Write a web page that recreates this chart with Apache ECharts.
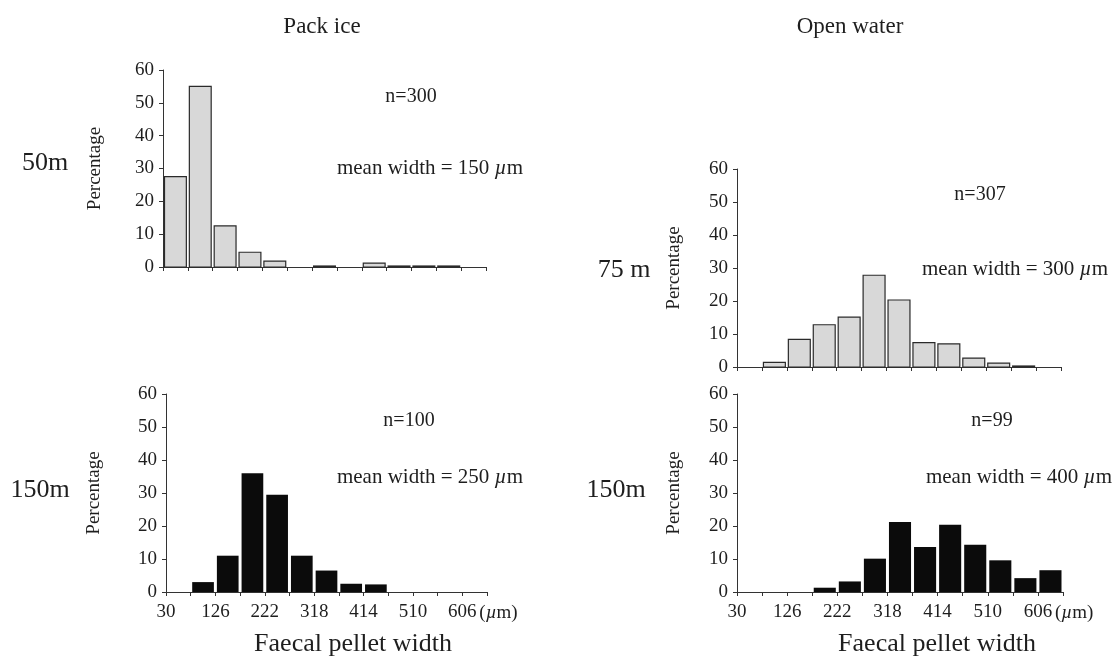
<!DOCTYPE html>
<html>
<head>
<meta charset="utf-8">
<title>Faecal pellet width</title>
<script src="https://cdn.jsdelivr.net/npm/echarts@6/dist/echarts.min.js"></script>
<style>
  html, body { margin: 0; padding: 0; background: #fff; }
  #chart { width: 1120px; height: 659px; }
</style>
</head>
<body>
<div id="chart"></div>
<script>
// Lower edge of each 48 µm width class
const binStarts = [30, 78, 126, 174, 222, 270, 318, 366, 414, 462, 510, 558, 606];
const binWidth = 48;
const tickLabels = [30, 126, 222, 318, 414, 510, 606];

// Percentage of pellets in each width class
const packIce50 = [27.5, 55, 12.5, 4.5, 1.8, 0, 0.3, 0, 1.2, 0.2, 0.3, 0.3, 0];
const packIce150 = [0, 3, 11, 36, 29.5, 11, 6.5, 2.5, 2.3, 0, 0, 0, 0];
const openWater75 = [0, 1.4, 8.4, 12.8, 15.1, 27.8, 20.3, 7.4, 7.0, 2.7, 1.2, 0.2, 0];
const openWater150 = [0, 0, 0, 1.3, 3.2, 10.1, 21.2, 13.6, 20.4, 14.3, 9.6, 4.2, 6.6];

const panelTitles = ['Pack ice', 'Open water'];
const depthLabels = ['50m', '75 m', '150m', '150m'];
const sampleSizes = ['n=300', 'n=307', 'n=100', 'n=99'];
const meanWidths = [150, 300, 250, 400];

const FONT = '"Liberation Serif", "Times New Roman", serif';
const INK = '#1e1e1e';

const panels = [
  { data: packIce50,    grid: { left: 163, top: 70,  width: 323, height: 197 }, dark: false, labels: false, nameGap: 58 },
  { data: openWater75,  grid: { left: 737, top: 169, width: 324, height: 198 }, dark: false, labels: false, nameGap: 53 },
  { data: packIce150,   grid: { left: 166, top: 394, width: 321, height: 198 }, dark: true,  labels: true,  nameGap: 62 },
  { data: openWater150, grid: { left: 737, top: 394, width: 326, height: 198 }, dark: true,  labels: true,  nameGap: 53 }
];

const chart = echarts.init(document.getElementById('chart'), null, { renderer: 'canvas' });

const grids = [], xAxes = [], yAxes = [], series = [];
panels.forEach((p, i) => {
  grids.push(p.grid);
  xAxes.push({
    type: 'value', gridIndex: i, min: 30, max: 654, interval: binWidth,
    axisLine: { lineStyle: { color: '#333', width: 1 } },
    axisTick: { show: true, length: 4, lineStyle: { color: '#333' } },
    splitLine: { show: false },
    axisLabel: {
      show: p.labels, margin: 11, color: INK, fontFamily: FONT, fontSize: 19,
      showMinLabel: true, showMaxLabel: true,
      formatter: v => tickLabels.indexOf(v) >= 0 ? String(v) : ''
    }
  });
  yAxes.push({
    type: 'value', gridIndex: i, min: 0, max: 60, interval: 10,
    name: 'Percentage', nameLocation: 'middle', nameGap: p.nameGap,
    nameTextStyle: { color: INK, fontFamily: FONT, fontSize: 19 },
    axisLine: { show: true, lineStyle: { color: '#333', width: 1 } },
    axisTick: { show: true, length: 4, lineStyle: { color: '#333' } },
    splitLine: { show: false },
    axisLabel: { margin: 9, color: INK, fontFamily: FONT, fontSize: 19 }
  });
  series.push({
    type: 'custom', xAxisIndex: i, yAxisIndex: i,
    data: binStarts.map((b, k) => [b, p.data[k]]),
    renderItem: (params, api) => {
      const x0 = api.value(0), v = api.value(1);
      if (!(v > 0)) return null;
      const a = api.coord([x0, v]);
      const b = api.coord([x0 + binWidth, 0]);
      const h = Math.max(b[1] - a[1], 1);
      return {
        type: 'rect',
        shape: { x: a[0] + 1.5, y: b[1] - h, width: b[0] - a[0] - 3, height: h },
        style: p.dark
          ? { fill: '#0b0b0b', stroke: null }
          : { fill: '#d8d8d8', stroke: '#2a2a2a', lineWidth: 1.2 }
      };
    }
  });
});

chart.setOption({
  backgroundColor: '#ffffff',
  animation: false,
  grid: grids, xAxis: xAxes, yAxis: yAxes, series: series
});

// Text placed relative to each panel's axes
const txt = (x, y, text, size, extra) => Object.assign({
  type: 'text', x: x, y: y,
  style: { text: text, fill: INK, font: size + 'px ' + FONT, textAlign: 'center', textVerticalAlign: 'middle' }
}, extra || {});

const graphics = [];
graphics.push(txt(322, 27, panelTitles[0], 23));
graphics.push(txt(850, 27, panelTitles[1], 23));

const depthPos = [[45, 163], [624, 270], [40, 490], [616, 490]];
depthLabels.forEach((t, i) => graphics.push(txt(depthPos[i][0], depthPos[i][1], t, 26)));

const nPos = [[411, 97], [980, 195], [409, 421], [992, 421]];
const meanPos = [[430, 168], [1015, 269], [430, 477], [1019, 477]];
panels.forEach((p, i) => {
  graphics.push(txt(nPos[i][0], nPos[i][1], sampleSizes[i], 20));
  graphics.push({
    type: 'text', x: meanPos[i][0], y: meanPos[i][1],
    style: {
      text: 'mean width = ' + meanWidths[i] + ' {i|µ}m',
      font: '21px ' + FONT, fill: INK, textAlign: 'center', textVerticalAlign: 'middle',
      rich: { i: { fontStyle: 'italic', fontFamily: FONT, fontSize: 21, fill: INK } }
    }
  });
});

// unit after the last tick label of the lower panels
[2, 3].forEach(i => {
  const px = chart.convertToPixel({ xAxisIndex: i }, 606);
  const base = panels[i].grid.top + panels[i].grid.height;
  graphics.push({
    type: 'text', x: px + 17, y: base + 21,
    style: {
      text: '({i|µ}m)', font: '19px ' + FONT, fill: INK, textAlign: 'left', textVerticalAlign: 'middle',
      rich: { i: { fontStyle: 'italic', fontFamily: FONT, fontSize: 19, fill: INK } }
    }
  });
});
graphics.push(txt(353, 644, 'Faecal pellet width', 26));
graphics.push(txt(937, 644, 'Faecal pellet width', 26));

chart.setOption({ graphic: graphics });
</script>
</body>
</html>
